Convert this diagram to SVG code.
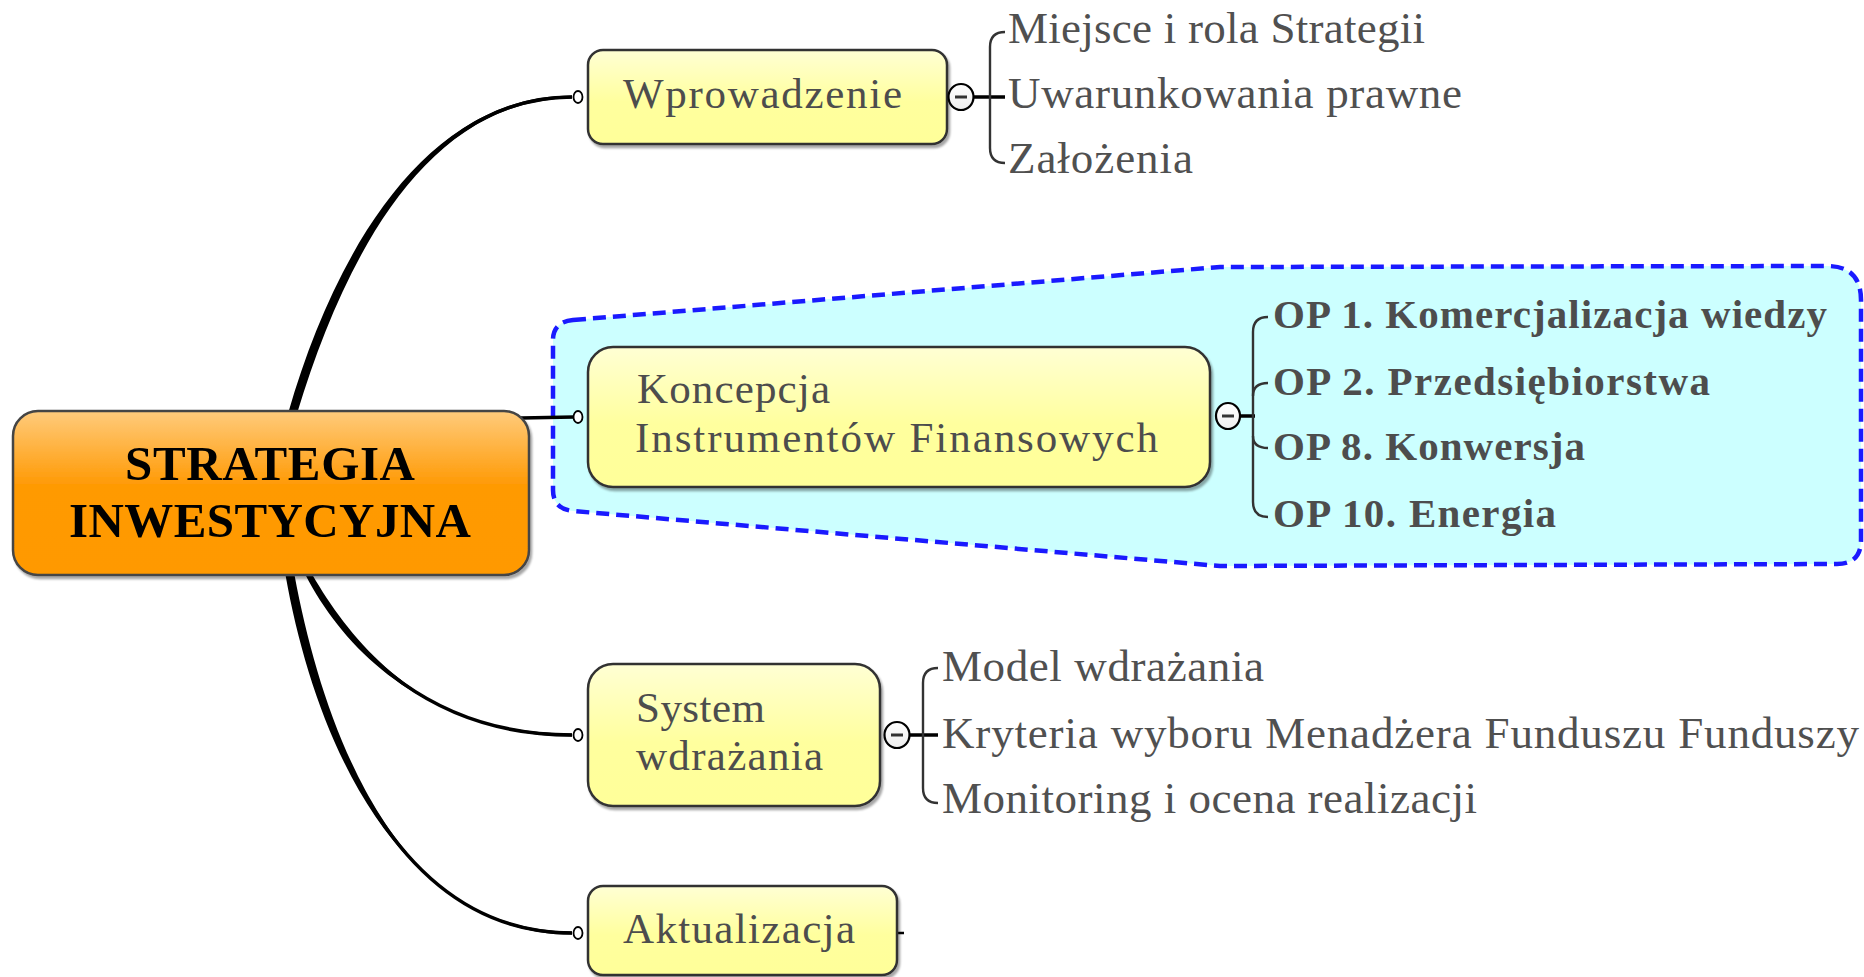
<svg xmlns="http://www.w3.org/2000/svg" width="1864" height="977" viewBox="0 0 1864 977">
<defs>
<linearGradient id="gY" x1="0" y1="0" x2="0" y2="1"><stop offset="0" stop-color="#FFFFD4"/><stop offset="0.55" stop-color="#FFFF9E"/><stop offset="1" stop-color="#FFFF99"/></linearGradient>
<linearGradient id="gO" x1="0" y1="0" x2="0" y2="1"><stop offset="0" stop-color="#FFCB7C"/><stop offset="0.45" stop-color="#FF9A05"/><stop offset="1" stop-color="#FF9900"/></linearGradient>
<linearGradient id="gC" x1="0" y1="0" x2="0" y2="1"><stop offset="0" stop-color="#FFFFFF"/><stop offset="1" stop-color="#EEEEEE"/></linearGradient>
<filter id="sh" x="-5%" y="-10%" width="110%" height="130%"><feDropShadow dx="2" dy="3" stdDeviation="1.2" flood-color="#000" flood-opacity="0.35"/></filter>
</defs>
<style>
.box{stroke:#333;stroke-width:2.5;filter:url(#sh)}
.yel{fill:url(#gY)}
.lbl{font-family:"Liberation Serif","Times New Roman",serif;font-size:43px;fill:#4d4d4d}
.sub{font-family:"Liberation Serif","Times New Roman",serif;font-size:45px;fill:#505050}
.op{font-family:"Liberation Serif","Times New Roman",serif;font-size:41px;font-weight:bold;fill:#4d4d4d}
.ctr{font-family:"Liberation Serif","Times New Roman",serif;font-size:49px;font-weight:bold;fill:#000;text-anchor:middle}
.br{fill:none;stroke:#333;stroke-width:2.4}
.stem{stroke:#000;stroke-width:3.5}
.att{fill:#fff;stroke:#000;stroke-width:1.8}
.exp{fill:url(#gC);stroke:#000;stroke-width:2.2}
.minus{stroke:#333;stroke-width:3}
.curve{fill:#000}
.cline{fill:none;stroke:#000;stroke-width:3.6}
</style>

<g id="boundary">
<path d="M 573 320 L 1220 267 L 1827 266 Q 1861 266 1861 300 L 1861 540 Q 1861 564 1837 564 L 1220 566 L 573 511 Q 553 509 553 490 L 553 340 Q 553 322 573 320 Z" fill="#CCFFFF" stroke="#1A1AFF" stroke-width="4.5" stroke-dasharray="13 7"/>
</g>

<g id="connectors">
<path class="curve" d="M 288.5 412 C 333.5 256, 424 95.5, 572 95.5 L 572 98.5 C 424 98.5, 342.5 264, 297.5 412 Z"/>
<path class="cline" d="M 293 412 C 338 260, 424 97, 572 97"/>
<line class="stem" x1="521" y1="418" x2="574" y2="417"/>
<path class="curve" d="M 305.5 575 C 346.5 654, 430 733.5, 572 733.5 L 572 736.5 C 430 736.5, 353.5 646, 312.5 575 Z"/>
<path class="cline" d="M 309 575 C 350 650, 430 735, 572 735"/>
<path class="curve" d="M 285.5 575 C 315.5 744, 400 931.5, 572 931.5 L 572 934.5 C 400 934.5, 324.5 736, 294.5 575 Z"/>
<path class="cline" d="M 290 575 C 320 740, 400 933, 572 933"/>
<ellipse class="att" cx="578" cy="97" rx="4.5" ry="6"/>
<ellipse class="att" cx="578" cy="417" rx="4.5" ry="6"/>
<ellipse class="att" cx="578" cy="735" rx="4.5" ry="6"/>
<ellipse class="att" cx="578" cy="933" rx="4.5" ry="6"/>
<line class="stem" x1="974" y1="97" x2="1005" y2="97"/>
<path class="br" d="M 1005 32 Q 990 32 990 47 L 990 148 Q 990 163 1005 163"/>
<line class="stem" x1="1240" y1="416" x2="1255" y2="416"/>
<path class="br" d="M 1268 317 Q 1253 317 1253 332 L 1253 502 Q 1253 517 1268 517"/>
<path class="br" d="M 1253 396 Q 1253 383 1268 383"/>
<path class="br" d="M 1253 436 Q 1253 448 1268 448"/>
<line class="stem" x1="909" y1="735" x2="938" y2="735"/>
<path class="br" d="M 938 668 Q 923 668 923 683 L 923 788 Q 923 803 938 803"/>
<line stroke="#000" stroke-width="2.5" x1="897" y1="933" x2="904" y2="933"/>
</g>

<g id="node-central">
<rect x="13" y="411" width="516" height="164" rx="25" fill="url(#gO)" stroke="#444" stroke-width="2.5" filter="url(#sh)"/>
<text class="ctr" x="270" y="480" textLength="290" lengthAdjust="spacing">STRATEGIA</text>
<text class="ctr" x="270" y="537" textLength="402" lengthAdjust="spacing">INWESTYCYJNA</text>
</g>

<g id="node-wprowadzenie">
<rect class="box yel" x="588" y="50" width="359" height="94" rx="15"/>
<text class="lbl" x="623" y="108" textLength="279" lengthAdjust="spacing">Wprowadzenie</text>
<ellipse class="exp" cx="961" cy="97" rx="12.5" ry="13"/>
<line class="minus" x1="955" y1="97" x2="967" y2="97"/>
</g>

<g id="node-miejsce"><text class="sub" x="1008" y="43" textLength="417" lengthAdjust="spacing">Miejsce i rola Strategii</text></g>
<g id="node-uwarunkowania"><text class="sub" x="1008" y="108" textLength="454" lengthAdjust="spacing">Uwarunkowania prawne</text></g>
<g id="node-zalozenia"><text class="sub" x="1008" y="173" textLength="185" lengthAdjust="spacing">Założenia</text></g>

<g id="node-koncepcja">
<rect class="box yel" x="588" y="347" width="622" height="140" rx="25"/>
<text class="lbl" x="637" y="403" textLength="193" lengthAdjust="spacing">Koncepcja</text>
<text class="lbl" x="635" y="452" textLength="523" lengthAdjust="spacing">Instrumentów Finansowych</text>
<ellipse class="exp" cx="1228" cy="416" rx="12" ry="13"/>
<line class="minus" x1="1222" y1="416" x2="1234" y2="416"/>
</g>

<g id="node-op1"><text class="op" x="1273" y="328" textLength="554" lengthAdjust="spacing">OP 1. Komercjalizacja wiedzy</text></g>
<g id="node-op2"><text class="op" x="1273" y="395" textLength="437" lengthAdjust="spacing">OP 2. Przedsiębiorstwa</text></g>
<g id="node-op8"><text class="op" x="1273" y="460" textLength="312" lengthAdjust="spacing">OP 8. Konwersja</text></g>
<g id="node-op10"><text class="op" x="1273" y="527" textLength="283" lengthAdjust="spacing">OP 10. Energia</text></g>

<g id="node-system">
<rect class="box yel" x="588" y="664" width="292" height="142" rx="25"/>
<text class="lbl" x="636" y="722" textLength="129" lengthAdjust="spacing">System</text>
<text class="lbl" x="636" y="770" textLength="187" lengthAdjust="spacing">wdrażania</text>
<ellipse class="exp" cx="897" cy="735" rx="12.5" ry="13"/>
<line class="minus" x1="891" y1="735" x2="903" y2="735"/>
</g>

<g id="node-model"><text class="sub" x="942" y="681" textLength="322" lengthAdjust="spacing">Model wdrażania</text></g>
<g id="node-kryteria"><text class="sub" x="942" y="748" textLength="917" lengthAdjust="spacing">Kryteria wyboru Menadżera Funduszu Funduszy</text></g>
<g id="node-monitoring"><text class="sub" x="942" y="813" textLength="535" lengthAdjust="spacing">Monitoring i ocena realizacji</text></g>

<g id="node-aktualizacja">
<rect class="box yel" x="588" y="886" width="309" height="89" rx="15"/>
<text class="lbl" x="623" y="943" textLength="232" lengthAdjust="spacing">Aktualizacja</text>
</g>
</svg>
